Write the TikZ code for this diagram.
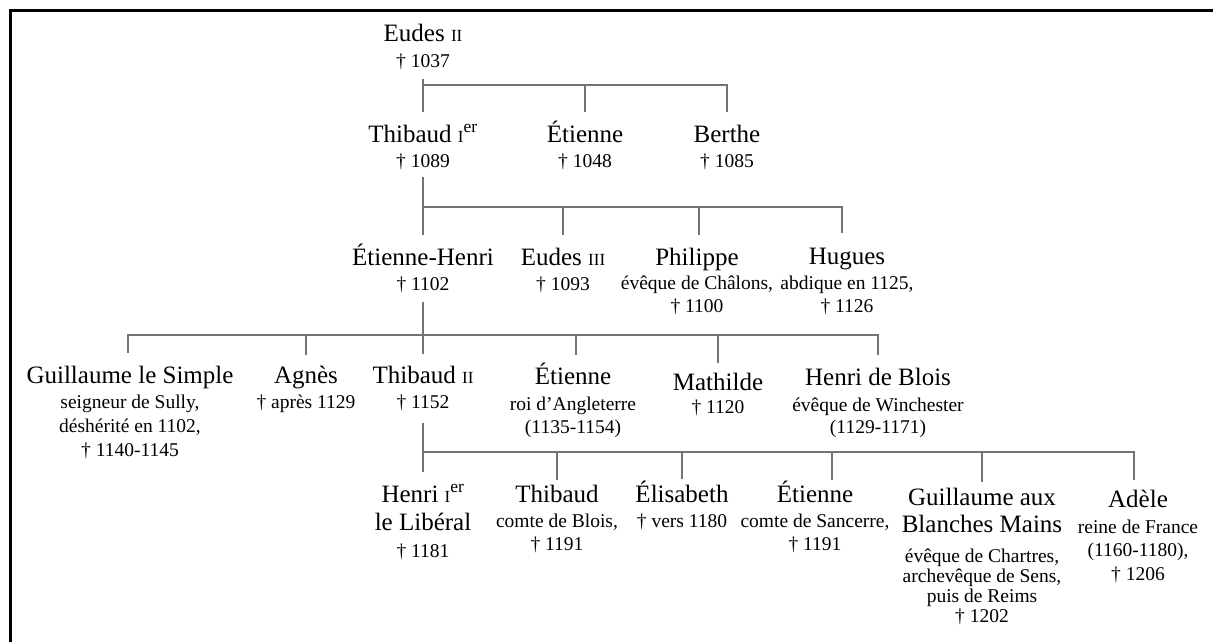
\documentclass[tikz,border=0pt]{standalone}
\usepackage{fontspec}
\setmainfont{Liberation Serif}
\newcommand\rn[1]{{\fontsize{17}{18}\selectfont #1}}
\newcommand\stk[1]{\begin{tabular}[t]{@{}c@{}}#1\end{tabular}}
\tikzset{
  nm/.style={font={\fontsize{25}{28}\selectfont}, inner sep=0pt, anchor=base, text height=18pt},
  dt/.style={font={\fontsize{19.5}{#1}\selectfont}, inner sep=0pt, anchor=base},
  dt/.default=23,
  link/.style={draw=black!55, line width=1.3pt},
}
\begin{document}
\begin{tikzpicture}[x=1pt, y=-1pt]
  \useasboundingbox (0,0) rectangle (1213,642);
  \draw[line width=3pt] (10.5,642) -- (10.5,10.5) -- (1213,10.5);

  % generation 0
  \node[nm] (eudes) at (423,42) {Eudes \rn{II}};
  \node[dt] (eudesd) at (423,67) {† 1037};

  % generation 1
  \node[nm] (thib1) at (423,142) {Thibaud \rn{I}\textsuperscript{er}};
  \node[dt] (thib1d) at (423,167) {† 1089};
  \node[nm] (etien1) at (585,142) {Étienne};
  \node[dt] (etien1d) at (585,167) {† 1048};
  \node[nm] (berthe) at (727,142) {Berthe};
  \node[dt] (berthed) at (727,167) {† 1085};

  % generation 2
  \node[nm] (etienh) at (423,265) {Étienne-Henri};
  \node[dt] (etienhd) at (423,290) {† 1102};
  \node[nm] (eudes3) at (563,265) {Eudes \rn{III}};
  \node[dt] (eudes3d) at (563,290) {† 1093};
  \node[nm] (phil) at (697,265) {Philippe};
  \node[dt] (phild) at (697,289) {\stk{évêque de Châlons,\\† 1100}};
  \node[nm] (hugues) at (847,264) {Hugues};
  \node[dt] (huguesd) at (847,289) {\stk{abdique en 1125,\\† 1126}};

  % generation 3
  \node[nm] (guil1) at (130,383) {Guillaume le Simple};
  \node[dt=24] (guil1d) at (130,408) {\stk{seigneur de Sully,\\déshérité en 1102,\\† 1140-1145}};
  \node[nm] (agnes) at (306,383) {Agnès};
  \node[dt] (agnesd) at (306,408) {† après 1129};
  \node[nm] (thib2) at (423,383) {Thibaud \rn{II}};
  \node[dt] (thib2d) at (423,408) {† 1152};
  \node[nm] (etien2) at (573,384) {Étienne};
  \node[dt] (etien2d) at (573,410) {\stk{roi d’Angleterre\\(1135-1154)}};
  \node[nm] (mathilde) at (718,390) {Mathilde};
  \node[dt] (mathilded) at (718,413) {† 1120};
  \node[nm] (henrib) at (878,385) {Henri de Blois};
  \node[dt=22] (henribd) at (878,411) {\stk{évêque de Winchester\\(1129-1171)}};

  % generation 4
  \node[nm] (henri1) at (423,502) {\stk{Henri \rn{I}\textsuperscript{er}\\le Libéral}};
  \node[dt] (henri1d) at (423,557) {† 1181};
  \node[nm] (thibb) at (557,502) {Thibaud};
  \node[dt] (thibbd) at (557,527) {\stk{comte de Blois,\\† 1191}};
  \node[nm] (elis) at (682,502) {Élisabeth};
  \node[dt] (elisd) at (682,527) {† vers 1180};
  \node[nm] (etien3) at (815,502) {Étienne};
  \node[dt] (etien3d) at (815,527) {\stk{comte de Sancerre,\\† 1191}};
  \node[nm, font={\fontsize{25}{27}\selectfont}] (guil2) at (982,505) {\stk{Guillaume aux\\Blanches Mains}};
  \node[dt=20] (guil2d) at (982,562) {\stk{évêque de Chartres,\\archevêque de Sens,\\puis de Reims\\† 1202}};
  \node[nm] (adele) at (1138,507) {Adèle};
  \node[dt=23.5] (adeled) at (1138,533) {\stk{reine de France\\(1160-1180),\\† 1206}};

  % links
  \coordinate (f0) at (423,85);
  \draw[link, shorten <=12pt, shorten >=12pt] (eudesd.base) -- (thib1.north);
  \draw[link, shorten >=12pt] (f0) -| (etien1.north);
  \draw[link, shorten >=12pt] (f0) -| (berthe.north);

  \coordinate (f1) at (423,207);
  \draw[link, shorten <=10pt, shorten >=12pt] (thib1d.base) -- (etienh.north);
  \draw[link, shorten >=12pt] (f1) -| (eudes3.north);
  \draw[link, shorten >=12pt] ([xshift=2pt]f1) -| ([xshift=2pt]phil.north);
  \draw[link, shorten >=13pt] (f1) -| ([xshift=-5pt]hugues.north);

  \coordinate (f2) at (423,335);
  \draw[link, shorten <=12pt, shorten >=11pt] (etienhd.base) -- (thib2.north);
  \draw[link, shorten >=12pt] (f2) -| ([xshift=-2pt]guil1.north);
  \draw[link, shorten >=10pt] (f2) -| (agnes.north);
  \draw[link, shorten >=11pt] (f2) -| ([xshift=3pt]etien2.north);
  \draw[link, shorten >=9pt] (f2) -| (mathilde.north);
  \draw[link, shorten >=12pt] (f2) -| (henrib.north);

  \coordinate (f3) at (423,452);
  \draw[link, shorten <=15pt, shorten >=12pt] (thib2d.base) -- (henri1.north);
  \draw[link, shorten >=4pt] (f3) -| (thibb.north);
  \draw[link, shorten >=5pt] (f3) -| (elis.north);
  \draw[link, shorten >=4pt] (f3) -| ([xshift=17pt]etien3.north);
  \draw[link, shorten >=5pt] (f3) -| (guil2.north);
  \draw[link, shorten >=9pt] (f3) -| ([xshift=-4pt]adele.north);
\end{tikzpicture}
\end{document}
